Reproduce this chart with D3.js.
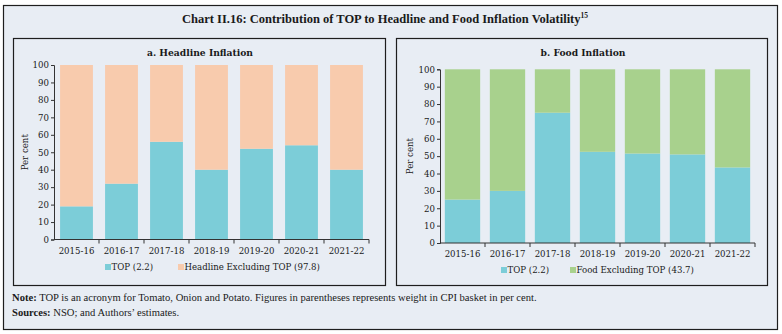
<!DOCTYPE html>
<html>
<head>
<meta charset="utf-8">
<script src="https://cdn.jsdelivr.net/npm/d3@7"></script>
<style>
    html, body { margin: 0; padding: 0; background: #ffffff; }
    svg { display: block; }
</style>
</head>
<body>
<svg id="chart" width="782" height="334"></svg>
<script>
const years = ["2015-16", "2016-17", "2017-18", "2018-19", "2019-20", "2020-21", "2021-22"];
const headlineTop = [19, 32, 56, 40, 52, 54, 40];
const foodTop = [25, 30, 75, 52.5, 51.5, 51, 43.5];
const yTicks = [0, 10, 20, 30, 40, 50, 60, 70, 80, 90, 100];

const BG = "#e8edf4";
const BORDER = "#1e1e1e";
const TEAL = "#7ccdd8";
const PEACH = "#f8cbad";
const GREEN = "#a8d18d";
const SERIF = "'DejaVu Serif', serif";

const svg = d3.select("#chart");

svg.append("rect")
    .attr("x", 3.5).attr("y", 5.5)
    .attr("width", 774).attr("height", 324)
    .attr("fill", BG)
    .attr("stroke", BORDER)
    .attr("stroke-width", 1.2);

svg.append("text")
    .attr("x", 385).attr("y", 23)
    .attr("text-anchor", "middle")
    .attr("font-family", "'Liberation Serif', serif")
    .attr("font-weight", 700)
    .attr("font-size", 12.5)
    .attr("fill", "#1a1a1a")
    .text("Chart II.16: Contribution of TOP to Headline and Food Inflation Volatility")
    .append("tspan")
    .attr("font-size", 7.5)
    .attr("dy", -5)
    .text("15");

function drawPanel({ box, title, titleX, plot, topValues, restColor, barRatio, legend }) {
    const g = svg.append("g");

    g.append("rect")
        .attr("x", box.x + 0.5).attr("y", box.y + 0.5)
        .attr("width", box.w).attr("height", box.h)
        .attr("fill", BG)
        .attr("stroke", BORDER)
        .attr("stroke-width", 1.2);

    g.append("text")
        .attr("x", titleX).attr("y", box.y + 18)
        .attr("text-anchor", "middle")
        .attr("font-family", SERIF)
        .attr("font-weight", 700)
        .attr("font-size", 9.2)
        .attr("fill", "#1a1a1a")
        .text(title);

    const x = d3.scaleBand().domain(years).range([plot.x0, plot.x1]).padding(0);
    const y = d3.scaleLinear().domain([0, 100]).range([plot.y0, plot.y1]);

    const rows = years.map((year, i) => ({ year, top: topValues[i], rest: 100 - topValues[i] }));
    const stacked = d3.stack().keys(["top", "rest"])(rows);
    const colors = { top: TEAL, rest: restColor };
    const barW = x.bandwidth() * barRatio;

    g.selectAll("g.layer")
        .data(stacked)
        .join("g")
        .attr("class", "layer")
        .attr("fill", (layer) => colors[layer.key])
        .selectAll("rect")
        .data((layer) => layer)
        .join("rect")
        .attr("x", (d) => x(d.data.year) + (x.bandwidth() - barW) / 2)
        .attr("y", (d) => y(d[1]))
        .attr("width", barW)
        .attr("height", (d) => y(d[0]) - y(d[1]));

    // y axis
    const yAxis = g.append("g")
        .attr("transform", `translate(${plot.x0},0)`)
        .call(d3.axisLeft(y).tickValues(yTicks).tickSize(3).tickPadding(2));
    yAxis.select(".domain").attr("stroke", "#333");
    yAxis.selectAll(".tick line").attr("stroke", "#333");
    yAxis.selectAll("text")
        .attr("font-family", SERIF)
        .attr("font-size", 8.6)
        .attr("fill", "#1a1a1a");

    // x axis, tick marks on the category boundaries
    const xAxis = g.append("g")
        .attr("transform", `translate(0,${plot.y0})`)
        .call(d3.axisBottom(x).tickSize(0).tickPadding(8));
    xAxis.select(".domain").attr("stroke", "#333").attr("d", `M${plot.x0},0H${plot.x1}`);
    xAxis.selectAll("text")
        .attr("font-family", SERIF)
        .attr("font-size", 8.6)
        .attr("fill", "#1a1a1a");
    xAxis.selectAll("line.boundary")
        .data(years.slice(1).concat([null]))
        .join("line")
        .attr("class", "boundary")
        .attr("x1", (d) => d ? x(d) : plot.x1)
        .attr("x2", (d) => d ? x(d) : plot.x1)
        .attr("y1", 0).attr("y2", 4)
        .attr("stroke", "#333");

    g.append("text")
        .attr("transform", `translate(${plot.labelX},${(plot.y0 + plot.y1) / 2}) rotate(-90)`)
        .attr("text-anchor", "middle")
        .attr("font-family", SERIF)
        .attr("font-size", 8.6)
        .attr("fill", "#1a1a1a")
        .text("Per cent");

    const lg = g.append("g").attr("transform", `translate(0,${legend.y})`);
    legend.items.forEach((item) => {
        lg.append("rect")
            .attr("x", item.x).attr("y", -6)
            .attr("width", 6).attr("height", 6)
            .attr("fill", item.color);
        lg.append("text")
            .attr("x", item.x + 6.5).attr("y", 0)
            .attr("font-family", SERIF)
            .attr("font-size", 8.6)
            .attr("fill", "#1a1a1a")
            .text(item.label);
    });
}

drawPanel({
    box: { x: 13, y: 38, w: 372, h: 247 },
    title: "a. Headline Inflation",
    titleX: 200,
    plot: { x0: 54, x1: 369, y0: 239.5, y1: 65, labelX: 28 },
    topValues: headlineTop,
    restColor: PEACH,
    barRatio: 0.73,
    legend: {
        y: 270,
        items: [
            { x: 105, color: TEAL, label: "TOP (2.2)" },
            { x: 178, color: PEACH, label: "Headline Excluding TOP (97.8)" }
        ]
    }
});

drawPanel({
    box: { x: 396, y: 38, w: 371, h: 247 },
    title: "b. Food Inflation",
    titleX: 583,
    plot: { x0: 440, x1: 755, y0: 243, y1: 69.3, labelX: 413 },
    topValues: foodTop,
    restColor: GREEN,
    barRatio: 0.785,
    legend: {
        y: 273,
        items: [
            { x: 501, color: TEAL, label: "TOP (2.2)" },
            { x: 570, color: GREEN, label: "Food Excluding TOP (43.7)" }
        ]
    }
});

const notes = svg.append("g")
    .attr("font-family", "'Liberation Serif', serif")
    .attr("font-size", 10.6)
    .attr("fill", "#1a1a1a");

const note = notes.append("text").attr("x", 12).attr("y", 301);
note.append("tspan").attr("font-weight", 700).text("Note:");
note.append("tspan").text(" TOP is an acronym for Tomato, Onion and Potato. Figures in parentheses represents weight in CPI basket in per cent.");

const src = notes.append("text").attr("x", 12).attr("y", 316);
src.append("tspan").attr("font-weight", 700).text("Sources:");
src.append("tspan").text(" NSO; and Authors’ estimates.");
</script>
</body>
</html>
